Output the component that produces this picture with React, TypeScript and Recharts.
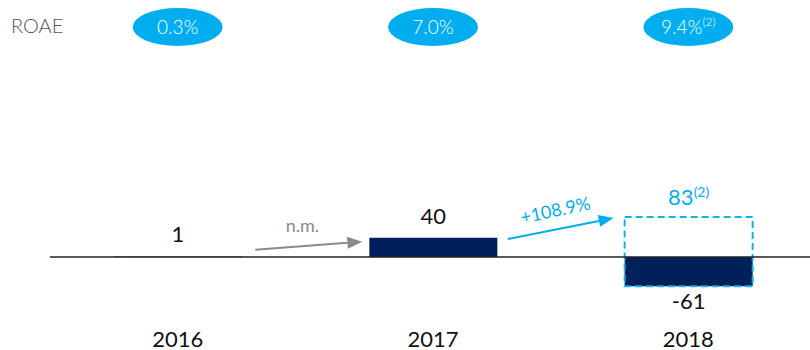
import { BarChart, Bar, XAxis, YAxis, ReferenceLine, LabelList } from "recharts";

const years = ["2016", "2017", "2018"];
const netIncome = [1, 40, -61];
const adjustedLow = [null, null, -61];
const adjustedHigh = [null, null, 83];
const adjustedNote = "(2)";
const roae = ["0.3%", "7.0%", "9.4%"];
const roaeNotes = ["", "", "(2)"];
const changes = ["", "n.m.", "+108.9%"];

const NAVY = "#00205B";
const BLUE = "#00AEEF";
const GRAY = "#8A8A8A";
const FONT = "Lato, 'Open Sans', sans-serif";

const data = years.map((year, i) => ({
    year,
    netIncome: netIncome[i],
    adjusted: adjustedLow[i] == null ? null : [adjustedLow[i], adjustedHigh[i]],
}));

const Arrow = ({ x1, y1, x2, y2, color }: any) => {
    const a = Math.atan2(y2 - y1, x2 - x1);
    const len = 15;
    const w = 6;
    const bx = x2 - len * Math.cos(a);
    const by = y2 - len * Math.sin(a);
    const pts = [
        `${x2},${y2}`,
        `${bx + w * Math.sin(a)},${by - w * Math.cos(a)}`,
        `${bx - w * Math.sin(a)},${by + w * Math.cos(a)}`,
    ].join(" ");
    return (
        <g>
            <line x1={x1} y1={y1} x2={bx} y2={by} stroke={color} strokeWidth={2} />
            <polygon points={pts} fill={color} />
        </g>
    );
};

const ValueLabel = (props: any) => {
    const { x, y, width, height, value, index } = props;
    const top = Math.min(y, y + height);
    const bottom = Math.max(y, y + height);
    const cx = x + width / 2;
    return (
        <g>
            <text
                x={cx}
                y={value >= 0 ? top - 14 : bottom + 23}
                textAnchor="middle"
                fontSize={22}
                fill="#111"
                fontFamily={FONT}
            >
                {value}
            </text>
            {changes[index] === "n.m." && (
                <g>
                    <Arrow x1={x - 114} y1={top + 12} x2={x - 7} y2={top + 4} color={GRAY} />
                    <text x={x - 67} y={top - 6} textAnchor="middle" fontSize={18} fill={GRAY} fontFamily={FONT}>
                        {changes[index]}
                    </text>
                </g>
            )}
        </g>
    );
};

const AdjustedLabel = (props: any) => {
    const { x, y, width, height, value } = props;
    if (!Array.isArray(value)) return null;
    const high = value[1];
    const i = adjustedHigh.indexOf(high);
    const top = Math.min(y, y + height);
    const cx = x + width / 2;
    const tx = x - 69;
    const ty = top - 5;
    return (
        <g>
            <text x={cx} y={top - 12} textAnchor="middle" fontSize={22} fill={BLUE} fontFamily={FONT}>
                {high}
                <tspan fontSize={14} dy={-8}>{adjustedNote}</tspan>
            </text>
            <Arrow x1={x - 117} y1={top + 22} x2={x - 11} y2={top + 1} color={BLUE} />
            <text
                x={tx}
                y={ty}
                textAnchor="middle"
                dominantBaseline="middle"
                fontSize={18}
                fill={BLUE}
                fontFamily={FONT}
                transform={`rotate(-12 ${tx} ${ty})`}
            >
                {changes[i]}
            </text>
        </g>
    );
};

const RoaeTick = (props: any) => {
    const { x, index } = props;
    const cy = 27;
    return (
        <g>
            <ellipse cx={x} cy={cy} rx={45} ry={19} fill={BLUE} />
            <text x={x} y={cy + 7} textAnchor="middle" fontSize={19} fill="#fff" fontFamily={FONT} fontWeight={300}>
                {roae[index]}
                {roaeNotes[index] && (
                    <tspan fontSize={12} dy={-8}>{roaeNotes[index]}</tspan>
                )}
            </text>
        </g>
    );
};

const YearTick = (props: any) => {
    const { x, payload } = props;
    return (
        <text x={x} y={347} textAnchor="middle" fontSize={22} fill="#111" fontFamily={FONT}>
            {payload.value}
        </text>
    );
};

export default function App() {
    return (
        <div style={{ position: "absolute", left: 0, top: 0, width: 810, height: 350, overflow: "hidden", background: "#fff" }}>
            <div style={{ position: "absolute", left: 11, top: 13, fontSize: 20, color: "#555", fontFamily: FONT, fontWeight: 300 }}>
                ROAE
            </div>
            <BarChart
                width={816}
                height={350}
                data={data}
                margin={{ top: 0, right: 0, bottom: 0, left: 50 }}
            >
                <XAxis
                    xAxisId="top"
                    orientation="top"
                    dataKey="year"
                    height={55}
                    axisLine={false}
                    tickLine={false}
                    tick={<RoaeTick />}
                />
                <XAxis
                    xAxisId="main"
                    dataKey="year"
                    height={45}
                    axisLine={false}
                    tickLine={false}
                    tick={<YearTick />}
                />
                <YAxis hide domain={[-100, 420]} />
                <Bar
                    xAxisId="main"
                    dataKey="netIncome"
                    fill={NAVY}
                    barSize={128}
                    isAnimationActive={false}
                >
                    <LabelList dataKey="netIncome" content={<ValueLabel />} />
                </Bar>
                <Bar
                    xAxisId="top"
                    dataKey="adjusted"
                    fill="none"
                    stroke="#1AAFE6"
                    strokeWidth={2}
                    strokeDasharray="7 4"
                    barSize={128}
                    isAnimationActive={false}
                >
                    <LabelList dataKey="adjusted" content={<AdjustedLabel />} />
                </Bar>
                <ReferenceLine xAxisId="main" y={0} stroke="#222" strokeWidth={1.5} />
            </BarChart>
        </div>
    );
}
